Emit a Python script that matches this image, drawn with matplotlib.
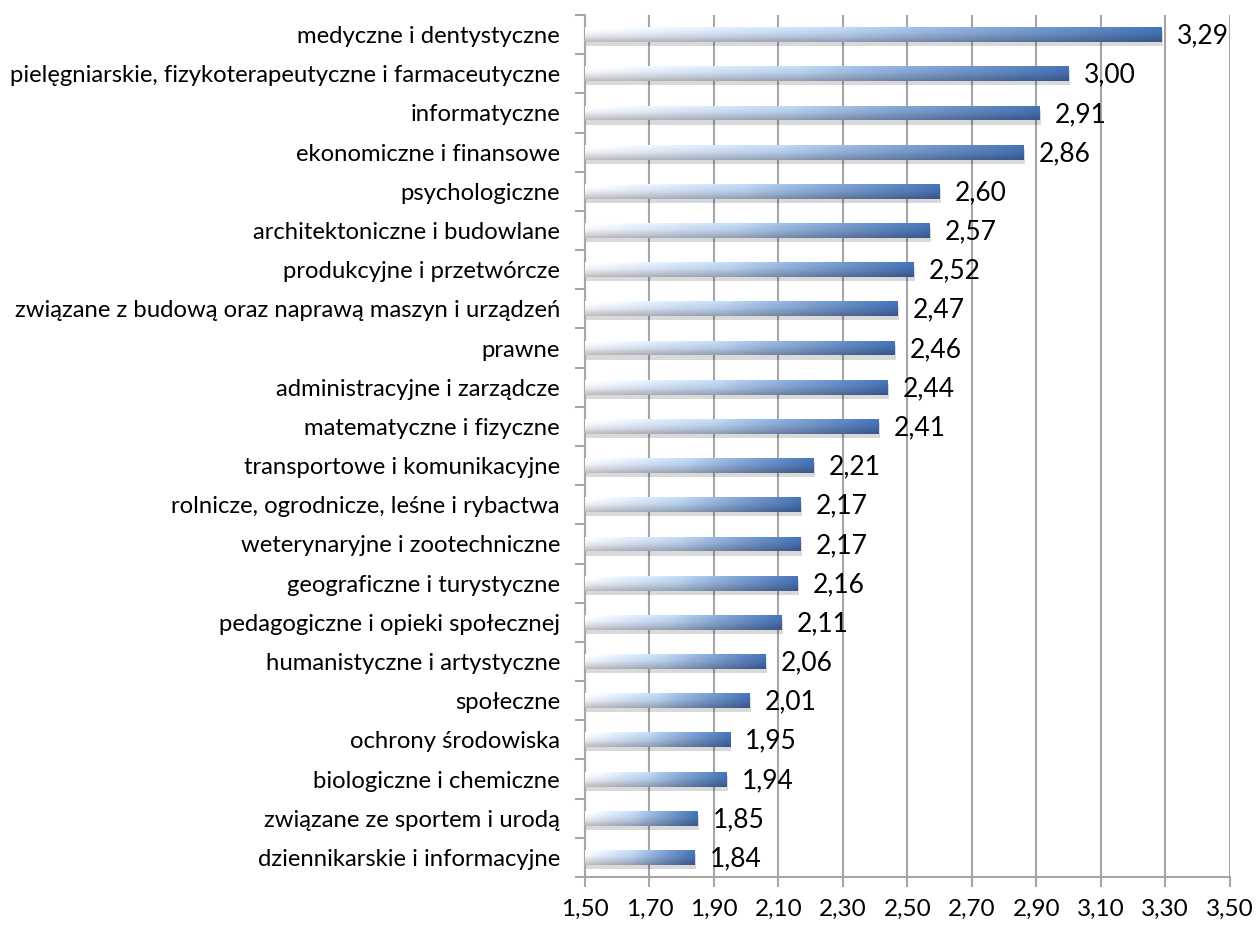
import numpy as np
import matplotlib
matplotlib.use("Agg")
import matplotlib.pyplot as plt
import matplotlib.patheffects as pe

categories = [
    "medyczne i dentystyczne",
    "pielęgniarskie, fizykoterapeutyczne i farmaceutyczne",
    "informatyczne",
    "ekonomiczne i finansowe",
    "psychologiczne",
    "architektoniczne i budowlane",
    "produkcyjne i przetwórcze",
    "związane z budową oraz naprawą maszyn i urządzeń",
    "prawne",
    "administracyjne i zarządcze",
    "matematyczne i fizyczne",
    "transportowe i komunikacyjne",
    "rolnicze, ogrodnicze, leśne i rybactwa",
    "weterynaryjne i zootechniczne",
    "geograficzne i turystyczne",
    "pedagogiczne i opieki społecznej",
    "humanistyczne i artystyczne",
    "społeczne",
    "ochrony środowiska",
    "biologiczne i chemiczne",
    "związane ze sportem i urodą",
    "dziennikarskie i informacyjne",
]
values = [3.29, 3.00, 2.91, 2.86, 2.60, 2.57, 2.52, 2.47, 2.46, 2.44, 2.41,
          2.21, 2.17, 2.17, 2.16, 2.11, 2.06, 2.01, 1.95, 1.94, 1.85, 1.84]
xticks = [1.50, 1.70, 1.90, 2.10, 2.30, 2.50, 2.70, 2.90, 3.10, 3.30, 3.50]

FONT = ["Lato", "DejaVu Sans"]
plt.rcParams["font.family"] = FONT

fig = plt.figure(figsize=(12.58, 9.26), dpi=100)
ax = fig.add_axes([0.4650, 0.0529, 0.9774 - 0.4650, 0.9838 - 0.0529])

xmin = xticks[0]
y = np.arange(len(categories))
h = 0.38
bars = ax.barh(y, np.array(values) - xmin, left=xmin, height=h,
               facecolor="#b8c8e0", edgecolor="none", zorder=3,
               path_effects=[pe.SimplePatchShadow(offset=(1, -3), shadow_rgbFace="#000000", alpha=0.15),
                             pe.Normal()])

# gradient image: horizontal light -> blue, vertical highlight -> dark
nx, ny = 256, 32
t = np.linspace(0, 1, nx)
light = np.array([0.97, 0.98, 1.00])
mid = np.array([0.72, 0.82, 0.93])
blue = np.array([0.26, 0.44, 0.70])
hor = np.zeros((nx, 3))
for i, tt in enumerate(t):
    if tt < 0.45:
        hor[i] = light + (mid - light) * (tt / 0.45)
    else:
        hor[i] = mid + (blue - mid) * ((tt - 0.45) / 0.55) ** 0.9
s = np.linspace(0, 1, ny)  # 0 top, 1 bottom
vert = np.where(s < 0.3, 1.0 + 0.06 * (1 - s / 0.3), 1.0 - 0.25 * ((s - 0.3) / 0.7) ** 1.3)
img = np.clip(hor[None, :, :] * vert[:, None, None], 0, 1)
img[..., 0] = np.clip(img[..., 0] + 0.02 * s[:, None], 0, 1)

for b in bars:
    x0, y0 = b.get_x(), b.get_y()
    w, hh = b.get_width(), b.get_height()
    im = ax.imshow(img, extent=[x0, x0 + w, y0 + hh, y0], aspect="auto",
                   interpolation="bicubic", zorder=4)
    im.set_clip_path(b)

for yi, v in zip(y, values):
    ax.annotate(f"{v:.2f}".replace(".", ","), xy=(v, yi), xytext=(11, -1),
                textcoords="offset points", ha="left", va="center",
                fontsize=19, color="black", zorder=5)

ax.set_xlim(xticks[0], xticks[-1])
ax.set_ylim(len(categories) - 0.5, -0.5)
ax.set_xticks(xticks)
ax.set_xticklabels([f"{v:.2f}".replace(".", ",") for v in xticks], fontsize=17.5)
ax.set_yticks(y)
ax.set_yticklabels(categories, fontsize=17.2)
ax.set_yticks(np.arange(-0.5, len(categories) + 0.5, 1), minor=True)

grid_c = "#a6a6a6"
ax.grid(axis="x", color=grid_c, linewidth=1.5, zorder=0)
ax.set_axisbelow(True)
for sp in ["top", "right"]:
    ax.spines[sp].set_visible(False)
for sp in ["left", "bottom"]:
    ax.spines[sp].set_color(grid_c)
    ax.spines[sp].set_linewidth(1.5)
ax.tick_params(axis="y", which="major", length=0, pad=18)
ax.tick_params(axis="y", which="minor", length=7, width=1.5, color=grid_c, direction="out")
ax.tick_params(axis="x", which="major", length=7, width=1.5, color=grid_c, direction="out", pad=9)

fig.savefig("out.png", dpi=100)
